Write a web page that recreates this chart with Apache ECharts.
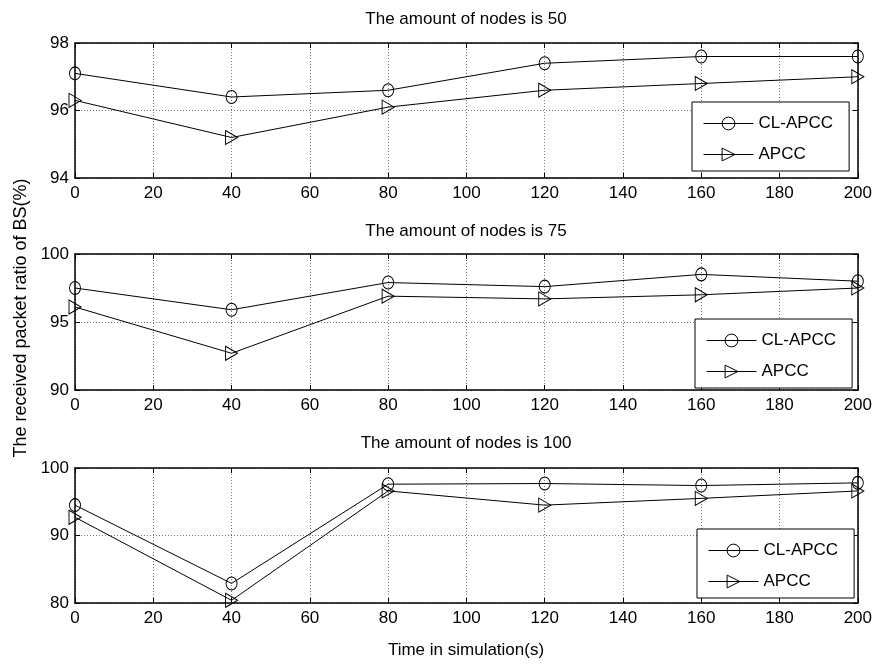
<!DOCTYPE html>
<html>
<head>
<meta charset="utf-8">
<script src="https://cdn.jsdelivr.net/npm/echarts@6/dist/echarts.min.js"></script>
<style>
html,body{margin:0;padding:0;background:#fff;}
#chart{width:875px;height:666px;}
</style>
</head>
<body>
<div id="chart"></div>
<script>
// ---- data ----
const times = [0, 40, 80, 120, 160, 200];
const panelTitles = ['The amount of nodes is 50', 'The amount of nodes is 75', 'The amount of nodes is 100'];
const seriesNames = ['CL-APCC', 'APCC'];
const clapcc50 = [97.1, 96.4, 96.6, 97.4, 97.6, 97.6];
const apcc50 = [96.3, 95.2, 96.1, 96.6, 96.8, 97.0];
const clapcc75 = [97.5, 95.9, 97.9, 97.6, 98.5, 98.0];
const apcc75 = [96.1, 92.7, 96.9, 96.7, 97.0, 97.5];
const clapcc100 = [94.5, 82.9, 97.6, 97.7, 97.4, 97.8];
const apcc100 = [92.7, 80.4, 96.6, 94.5, 95.5, 96.6];
const yMins = [94, 90, 80];
const yMaxs = [98, 100, 100];
const yIntervals = [2, 5, 10];
const xLabel = 'Time in simulation(s)';
const yLabel = 'The received packet ratio of BS(%)';

const FONT = '"Liberation Sans", Arial, sans-serif';
const panels = [
  {cl: clapcc50, ap: apcc50},
  {cl: clapcc75, ap: apcc75},
  {cl: clapcc100, ap: apcc100}
];
const gridTops = [43, 254, 468];
const gridHeights = [135, 136, 135];
const titleYs = [19, 231, 443];
const legendBoxes = [
  {left: 692, top: 102},
  {left: 695, top: 319},
  {left: 697, top: 529}
];

const grids = [], xAxes = [], yAxes = [], series = [], legends = [], graphics = [];
const tri = 'path://M0,0L10,5L0,10Z';

panels.forEach((p, i) => {
  grids.push({left: 75, right: 17, top: gridTops[i], height: gridHeights[i], containLabel: false});
  const tick = {show: true, inside: true, length: 5, lineStyle: {color: '#000'}};
  const axLine = {show: true, onZero: false, lineStyle: {color: '#000', width: 1.5}};
  xAxes.push({
    type: 'value', gridIndex: i, min: 0, max: 200, interval: 20, position: 'bottom',
    axisLine: axLine, axisTick: tick,
    axisLabel: {color: '#000', fontSize: 17, fontFamily: FONT, margin: 7},
    splitLine: {show: true, lineStyle: {color: '#777', type: [1, 2], width: 1}}
  });
  xAxes.push({
    type: 'value', gridIndex: i, min: 0, max: 200, interval: 20, position: 'top',
    axisLine: axLine, axisTick: tick, axisLabel: {show: false}, splitLine: {show: false}
  });
  yAxes.push({
    type: 'value', gridIndex: i, min: yMins[i], max: yMaxs[i], interval: yIntervals[i], position: 'left',
    axisLine: axLine, axisTick: tick,
    axisLabel: {color: '#000', fontSize: 17, fontFamily: FONT, margin: 6},
    splitLine: {show: true, lineStyle: {color: '#777', type: [1, 2], width: 1}}
  });
  yAxes.push({
    type: 'value', gridIndex: i, min: yMins[i], max: yMaxs[i], interval: yIntervals[i], position: 'right',
    axisLine: axLine, axisTick: tick, axisLabel: {show: false}, splitLine: {show: false}
  });
  const common = {
    type: 'line', xAxisIndex: 2 * i, yAxisIndex: 2 * i,
    lineStyle: {color: '#000', width: 1},
    itemStyle: {color: 'rgba(0,0,0,0)', borderColor: '#000', borderWidth: 1},
    showAllSymbol: true, animation: false, z: 3
  };
  series.push(Object.assign({}, common, {
    name: seriesNames[0], symbol: 'circle', symbolSize: [11, 13],
    data: times.map((t, k) => [t, p.cl[k]])
  }));
  series.push(Object.assign({}, common, {
    name: seriesNames[1], symbol: tri, symbolSize: [12, 14],
    data: times.map((t, k) => [t, p.ap[k]])
  }));
  legends.push({
    show: true, orient: 'vertical', left: legendBoxes[i].left, top: legendBoxes[i].top,
    data: seriesNames, itemWidth: 50, itemHeight: 16, itemGap: 14,
    padding: [13, 16, 8, 11],
    backgroundColor: '#fff', borderColor: '#000', borderWidth: 1,
    lineStyle: {width: 1, color: '#000'},
    itemStyle: {color: 'rgba(0,0,0,0)', borderColor: '#000', borderWidth: 1},
    textStyle: {color: '#000', fontSize: 17, fontFamily: FONT},
    selectedMode: false, z: 10
  });
  graphics.push({
    type: 'text', x: 466, y: titleYs[i],
    style: {text: panelTitles[i], fill: '#000', font: '17px ' + FONT, textAlign: 'center', textVerticalAlign: 'middle'}
  });
});

graphics.push({
  type: 'text', x: 466, y: 650,
  style: {text: xLabel, fill: '#000', font: '17px ' + FONT, textAlign: 'center', textVerticalAlign: 'middle'}
});
graphics.push({
  type: 'text', x: 21, y: 318, rotation: Math.PI / 2,
  style: {text: yLabel, fill: '#000', font: '18px ' + FONT, textAlign: 'center', textVerticalAlign: 'middle'}
});

const chart = echarts.init(document.getElementById('chart'), null, {renderer: 'canvas'});
chart.setOption({
  backgroundColor: '#fff',
  animation: false,
  grid: grids,
  xAxis: xAxes,
  yAxis: yAxes,
  legend: legends,
  series: series,
  graphic: graphics
});
</script>
</body>
</html>
